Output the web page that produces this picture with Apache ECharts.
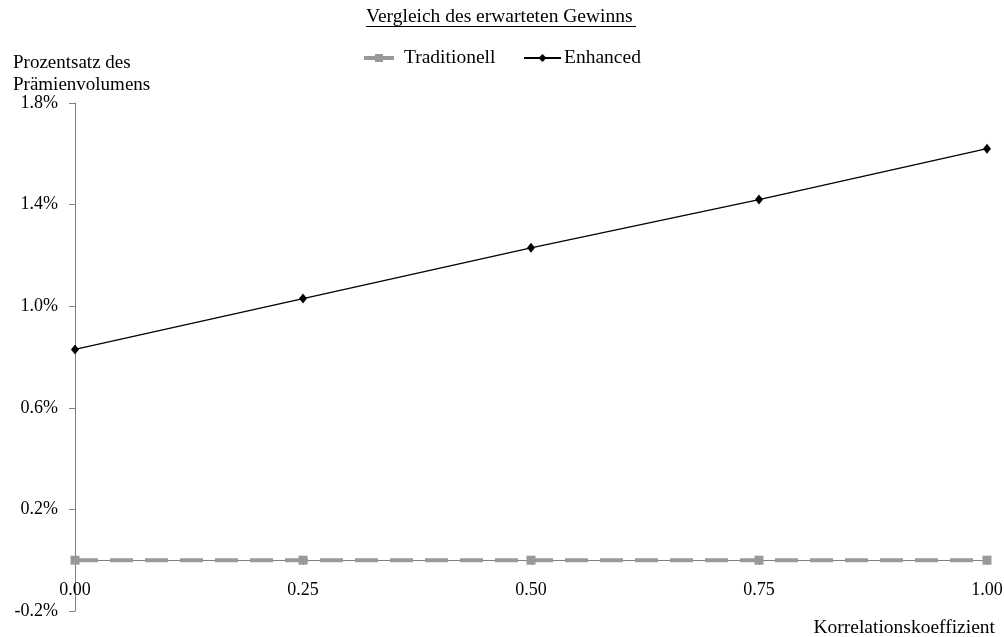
<!DOCTYPE html>
<html><head><meta charset="utf-8">
<script src="https://cdn.jsdelivr.net/npm/echarts@6/dist/echarts.min.js"></script>
<style>html,body{margin:0;padding:0;background:#fff}#c{width:1004px;height:637px}</style>
</head><body><div id="c"></div>
<script>
const xValues = [0, 0.25, 0.5, 0.75, 1.0];
const traditionell = [0, 0, 0, 0, 0];
const enhanced = [0.83, 1.03, 1.23, 1.42, 1.62];
const yTicks = [-0.2, 0.2, 0.6, 1.0, 1.4, 1.8];
const xTicks = [0, 0.25, 0.5, 0.75, 1.0];

const FONT = '"Liberation Serif", "DejaVu Serif", serif';
const chart = echarts.init(document.getElementById('c'));
chart.setOption({
  animation: false,
  textStyle: { fontFamily: FONT, color: '#000' },
  title: [
    { text: 'Vergleich des erwarteten Gewinns', left: 361, top: 2,
      textStyle: { fontFamily: FONT, fontSize: 19.5, fontWeight: 'normal', color: '#000' } },
    { text: 'Prozentsatz des\nPrämienvolumens', left: 8, top: 47,
      textStyle: { fontFamily: FONT, fontSize: 19, fontWeight: 'normal', color: '#000', lineHeight: 22 } },
    { text: 'Korrelationskoeffizient', right: 4, top: 613,
      textStyle: { fontFamily: FONT, fontSize: 19.5, fontWeight: 'normal', color: '#000' } }
  ],
  graphic: [
    { type: 'line', shape: { x1: 366, y1: 26.5, x2: 636, y2: 26.5 }, style: { stroke: '#000', lineWidth: 1 } }
  ],
  legend: [
    { data: [{ name: 'Traditionell', lineStyle: { width: 4, type: 'solid' } }],
      left: 357, top: 43, itemWidth: 30, itemHeight: 10, itemGap: 0,
      textStyle: { fontFamily: FONT, fontSize: 19.5, color: '#000', padding: [0, 0, 0, 5] } },
    { data: ['Enhanced'], left: 518, top: 43, itemWidth: 37, itemHeight: 10, itemGap: 0,
      textStyle: { fontFamily: FONT, fontSize: 19.5, color: '#000', padding: [0, 0, 0, -2] } }
  ],
  grid: { left: 75, right: 17, top: 103, bottom: 26, containLabel: false, outerBoundsMode: 'none' },
  xAxis: {
    type: 'value', min: 0, max: 1, interval: 0.25, offset: -51,
    axisLine: { onZero: false, lineStyle: { color: '#808080', width: 1 } },
    axisTick: { show: true, length: 5, inside: false, customValues: xTicks, lineStyle: { color: '#808080' } },
    axisLabel: { customValues: xTicks, margin: 21, fontFamily: FONT, fontSize: 18, color: '#000',
      formatter: v => v.toFixed(2) },
    splitLine: { show: false }
  },
  yAxis: {
    type: 'value', min: -0.2, max: 1.8,
    axisLine: { show: true, onZero: false, lineStyle: { color: '#808080', width: 1 } },
    axisTick: { show: true, length: 6, customValues: yTicks, lineStyle: { color: '#808080' } },
    axisLabel: { customValues: yTicks, margin: 17, fontFamily: FONT, fontSize: 18, color: '#000',
      formatter: v => v.toFixed(1) + '%' },
    splitLine: { show: false }
  },
  series: [
    { name: 'Traditionell', type: 'line',
      data: xValues.map((x, i) => [x, traditionell[i]]),
      symbol: 'rect', symbolSize: 9, showAllSymbol: true,
      itemStyle: { color: '#999999' },
      lineStyle: { color: '#999999', width: 4, type: [23, 12] }, z: 3 },
    { name: 'Enhanced', type: 'line',
      data: xValues.map((x, i) => [x, enhanced[i]]),
      symbol: 'diamond', symbolSize: [8, 10], showAllSymbol: true,
      itemStyle: { color: '#000' },
      lineStyle: { color: '#000', width: 1.3 }, z: 4 }
  ]
});
</script></body></html>
